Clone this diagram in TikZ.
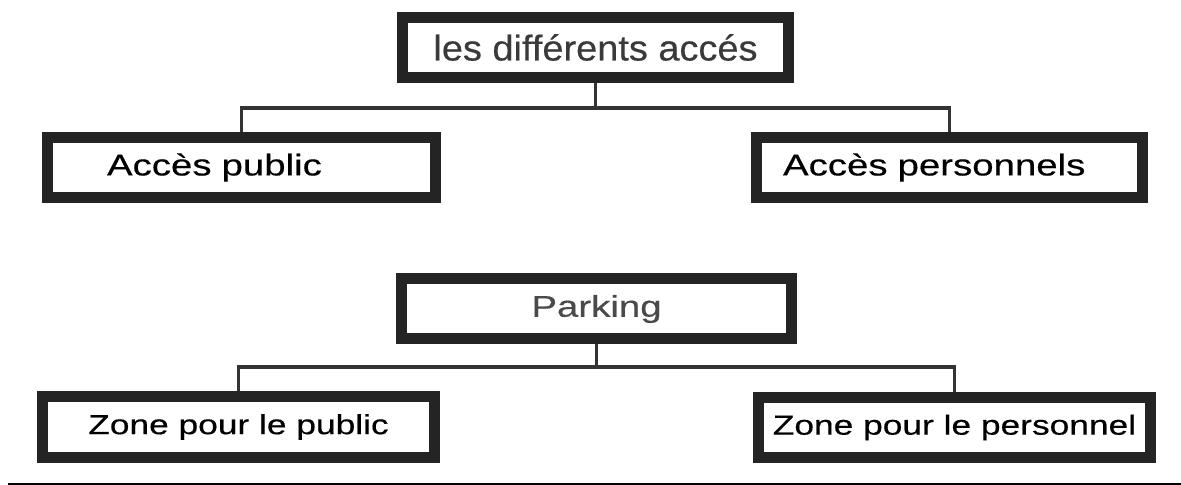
\documentclass[tikz,border=0pt]{standalone}
\usepackage{fontspec}
\usepackage{xcolor}
\newfontfamily\boxfont[FakeStretch=1.28,FakeBold=0.4]{Liberation Sans}
\newfontfamily\titlefont[FakeStretch=1.06,FakeBold=0.4]{Liberation Sans}
\definecolor{boxblack}{HTML}{242424}
\definecolor{linkgray}{HTML}{333333}
\definecolor{titlegray}{HTML}{3A3A3A}
\definecolor{softgray}{HTML}{4A4A4A}

\begin{document}
\begin{tikzpicture}[x=0.5pt,y=-0.5pt,
    every node/.style={font=\boxfont\fontsize{15}{18}\selectfont,text=black},
    accbox/.style={draw=boxblack,line width=5.5pt,fill=white,minimum height=30pt,inner sep=0pt},
    zonefont/.style={font=\boxfont\fontsize{13.8}{16}\selectfont},
    link/.style={draw=linkgray,line width=1.8pt}]
    \useasboundingbox (0,0) rectangle (1181,485);

    \node[accbox,minimum width=193pt,font=\titlefont\fontsize{17.9}{20}\selectfont,text=titlegray] (acces) at (595.5,47.5) {les différents accés};
    \node[accbox,align=left,text width=134.5pt,inner xsep=29.75pt] (public) at (241.5,167.5) {Accès public};
    \node[accbox,align=left,text width=166.5pt,inner xsep=13.25pt] (perso) at (949.5,167.5) {Accès personnels};

    \node[accbox,minimum width=195pt,text=softgray] (parking) at (596.5,309) {Parking};
    \node[accbox,zonefont,minimum width=196pt] (zpublic) at (238.5,427) {Zone pour le public};
    \node[accbox,zonefont,minimum width=196pt] (zperso) at (954.5,427.5) {Zone pour le personnel};

    \coordinate (hubA) at (595.5,108);
    \draw[link] (acces.south) -- (hubA);
    \draw[link] (public.north) |- (hubA) -| (perso.north);

    \coordinate (hubB) at (596.5,367);
    \draw[link] (parking.south) -- (hubB);
    \draw[link] (zpublic.north) |- (hubB) -| (zperso.north);

    \draw[line width=1pt,black] (8,484) -- (1181,484);
  \end{tikzpicture}
\end{document}
